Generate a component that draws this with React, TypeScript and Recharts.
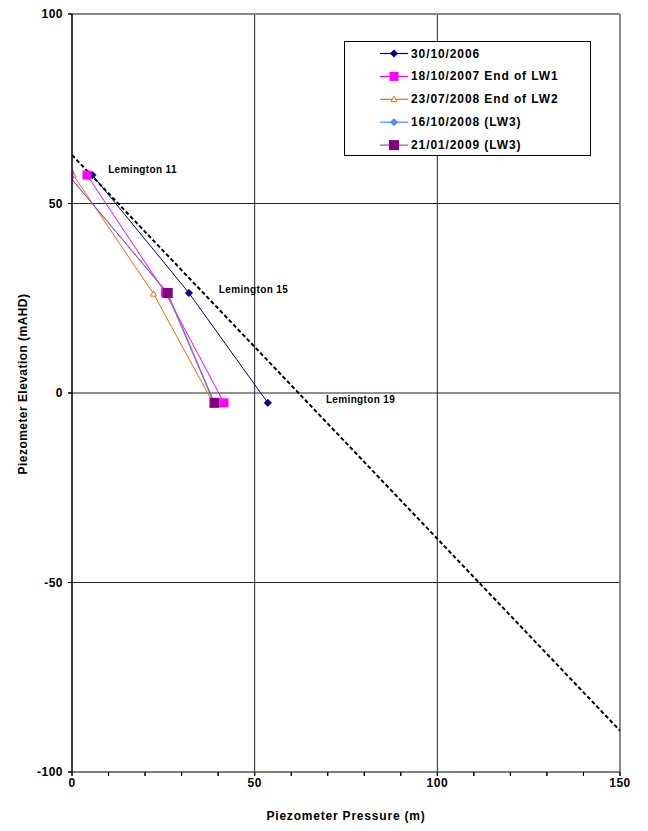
import React from 'react';
import {
  ComposedChart,
  Line,
  Scatter,
  XAxis,
  YAxis,
  ReferenceLine,
} from 'recharts';

const FONT = '"Liberation Sans", Arial, sans-serif';

const s2006 = [
  { x: 5.6, y: 57.5 },
  { x: 32.0, y: 26.4 },
  { x: 53.6, y: -2.6 },
];
const s2007 = [
  { x: 4.1, y: 57.5 },
  { x: 25.6, y: 26.4 },
  { x: 41.6, y: -2.6 },
];
const s2008a = [
  { x: 0.3, y: 57.6 },
  { x: 22.3, y: 26.2 },
  { x: 38.6, y: -2.6 },
];
const s2008b = [
  { x: -1.0, y: 57.5 },
  { x: 26.0, y: 26.4 },
  { x: 38.8, y: -2.6 },
];
const s2009 = [
  { x: -1.0, y: 57.5 },
  { x: 26.2, y: 26.4 },
  { x: 39.0, y: -2.6 },
];
const hydrostatic = [
  { x: 0, y: 62.8 },
  { x: 150, y: -89.1 },
];
const siteLabels = [
  { x: 9.9, y: 59.1, name: 'Lemington 11' },
  { x: 40.2, y: 27.4, name: 'Lemington 15' },
  { x: 69.5, y: -1.6, name: 'Lemington 19' },
];

const xTicks = [0, 10, 20, 30, 40, 50, 60, 70, 80, 90, 100, 110, 120, 130, 140, 150];
const yTicks = [-100, -50, 0, 50, 100];
const xGrid = [50, 100];
const yGrid = [50, 0, -50];

type Shape = 'diamond' | 'square' | 'triangle';

const series: { name: string; data: { x: number; y: number }[]; line: string; fill: string; shape: Shape; size: number }[] = [
  { name: '30/10/2006', data: s2006, line: '#000080', fill: '#000080', shape: 'diamond', size: 3.8 },
  { name: '18/10/2007 End of LW1', data: s2007, line: '#FF00FF', fill: '#FF00FF', shape: 'square', size: 4.5 },
  { name: '23/07/2008 End of LW2', data: s2008a, line: '#FF6600', fill: '#FF6600', shape: 'triangle', size: 3 },
  { name: '16/10/2008 (LW3)', data: s2008b, line: '#5588FF', fill: '#5588FF', shape: 'diamond', size: 3.8 },
  { name: '21/01/2009 (LW3)', data: s2009, line: '#A050A8', fill: '#800080', shape: 'square', size: 5 },
];

function marker(shape: Shape, cx: number, cy: number, s: number, fill: string, key?: any) {
  if (shape === 'diamond') {
    return (
      <polygon key={key} points={`${cx},${cy - s} ${cx + s},${cy} ${cx},${cy + s} ${cx - s},${cy}`} fill={fill} stroke={fill} strokeWidth={0.5} />
    );
  }
  if (shape === 'square') {
    return <rect key={key} x={cx - s} y={cy - s} width={2 * s} height={2 * s} fill={fill} />;
  }
  return (
    <polygon key={key} points={`${cx},${cy - s} ${cx + s},${cy + s * 0.8} ${cx - s},${cy + s * 0.8}`} fill="#FFFFFF" stroke={fill} strokeWidth={1} />
  );
}

const XTick = (props: any) => {
  const { x, y, payload } = props;
  return (
    <g>
      <line x1={x} x2={x} y1={y - 8} y2={y - 4} stroke="#000" strokeWidth={1} />
      {payload.value % 50 === 0 ? (
        <text x={x} y={y + 7} textAnchor="middle" fontFamily={FONT} fontWeight="bold" fontSize={12} letterSpacing={0.5} fill="#000">
          {payload.value}
        </text>
      ) : null}
    </g>
  );
};

const YTick = (props: any) => {
  const { x, y, payload } = props;
  return (
    <g>
      <line x1={x + 3} x2={x + 7} y1={y} y2={y} stroke="#000" strokeWidth={1} />
      <text x={x - 2} y={y} textAnchor="end" dominantBaseline="central" fontFamily={FONT} fontWeight="bold" fontSize={12} letterSpacing={0.5} fill="#000">
        {payload.value}
      </text>
    </g>
  );
};

const LegendBox = () => (
  <div
    style={{
      position: 'absolute',
      left: 336,
      top: 33,
      width: 247,
      height: 115,
      border: '1px solid #000',
      background: '#fff',
      boxSizing: 'border-box',
    }}
  >
    <svg width={245} height={113} style={{ position: 'absolute', left: 0, top: 0 }}>
      {series.map((s, i) => {
        const cy = 11.5 + i * 22.9;
        return (
          <g key={s.name}>
            <line x1={35} x2={63} y1={cy} y2={cy} stroke={s.line} strokeWidth={1.2} />
            {marker(s.shape, 49, cy, s.size, s.fill)}
            <text x={66} y={cy} dominantBaseline="central" fontFamily={FONT} fontWeight="bold" fontSize={12} letterSpacing={0.9} fill="#000">
              {s.name}
            </text>
          </g>
        );
      })}
    </svg>
  </div>
);

export default function App() {
  return (
    <div style={{ width: 640, height: 823, background: '#fff', position: 'relative' }}>
      <ComposedChart width={640} height={823} margin={{ top: 6, right: 28, left: 0, bottom: 0 }}>
        <XAxis
          type="number"
          dataKey="x"
          domain={[0, 150]}
          ticks={xTicks}
          allowDataOverflow
          interval={0}
          tickSize={4}
          tickMargin={4}
          tick={<XTick />}
          height={59}
          axisLine={{ stroke: '#555', strokeWidth: 1.5 }}
          tickLine={{ stroke: '#000', strokeWidth: 1 }}
          label={{
            content: () => (
              <text x={338} y={812} textAnchor="middle" fontFamily={FONT} fontWeight="bold" fontSize={12} letterSpacing={0.8} fill="#000">
                Piezometer Pressure (m)
              </text>
            ),
          }}
        />
        <YAxis
          type="number"
          dataKey="y"
          domain={[-100, 100]}
          ticks={yTicks}
          allowDataOverflow
          interval={0}
          tickSize={4}
          tickMargin={3}
          tick={<YTick />}
          width={64}
          axisLine={{ stroke: '#000', strokeWidth: 1.5 }}
          tickLine={{ stroke: '#000', strokeWidth: 1 }}
          label={{
            content: () => (
              <text
                x={15}
                y={376}
                transform="rotate(-90 15 376)"
                textAnchor="middle"
                dominantBaseline="central"
                fontFamily={FONT}
                fontWeight="bold"
                fontSize={12}
                letterSpacing={0.45}
                fill="#000"
              >
                Piezometer Elevation (mAHD)
              </text>
            ),
          }}
        />
        {xGrid.map((v) => (
          <ReferenceLine key={'gx' + v} x={v} stroke="#222" strokeWidth={1} />
        ))}
        {yGrid.map((v) => (
          <ReferenceLine key={'gy' + v} y={v} stroke="#222" strokeWidth={1} />
        ))}
        <ReferenceLine y={100} stroke="#888" strokeWidth={2} />
        <ReferenceLine x={150} stroke="#888" strokeWidth={2} />
        <Line
          data={hydrostatic}
          dataKey="y"
          stroke="#000"
          strokeWidth={2}
          strokeDasharray="4 2.5"
          dot={false}
          isAnimationActive={false}
          legendType="none"
        />
        {series.map((s) => (
          <Line
            key={s.name}
            name={s.name}
            data={s.data}
            dataKey="y"
            stroke={s.line}
            strokeWidth={1}
            isAnimationActive={false}
            dot={(p: any) => marker(s.shape, p.cx, p.cy, s.size, s.fill, `${s.name}-${p.index}`)}
            activeDot={false}
          />
        ))}
        <Scatter
          data={siteLabels}
          dataKey="y"
          isAnimationActive={false}
          legendType="none"
          shape={(p: any) => (
            <text x={p.cx} y={p.cy} dominantBaseline="central" fontFamily={FONT} fontWeight="bold" fontSize={10} letterSpacing={0.35} fill="#000">
              {p.payload.name}
            </text>
          )}
        />
      </ComposedChart>
      <LegendBox />
    </div>
  );
}
